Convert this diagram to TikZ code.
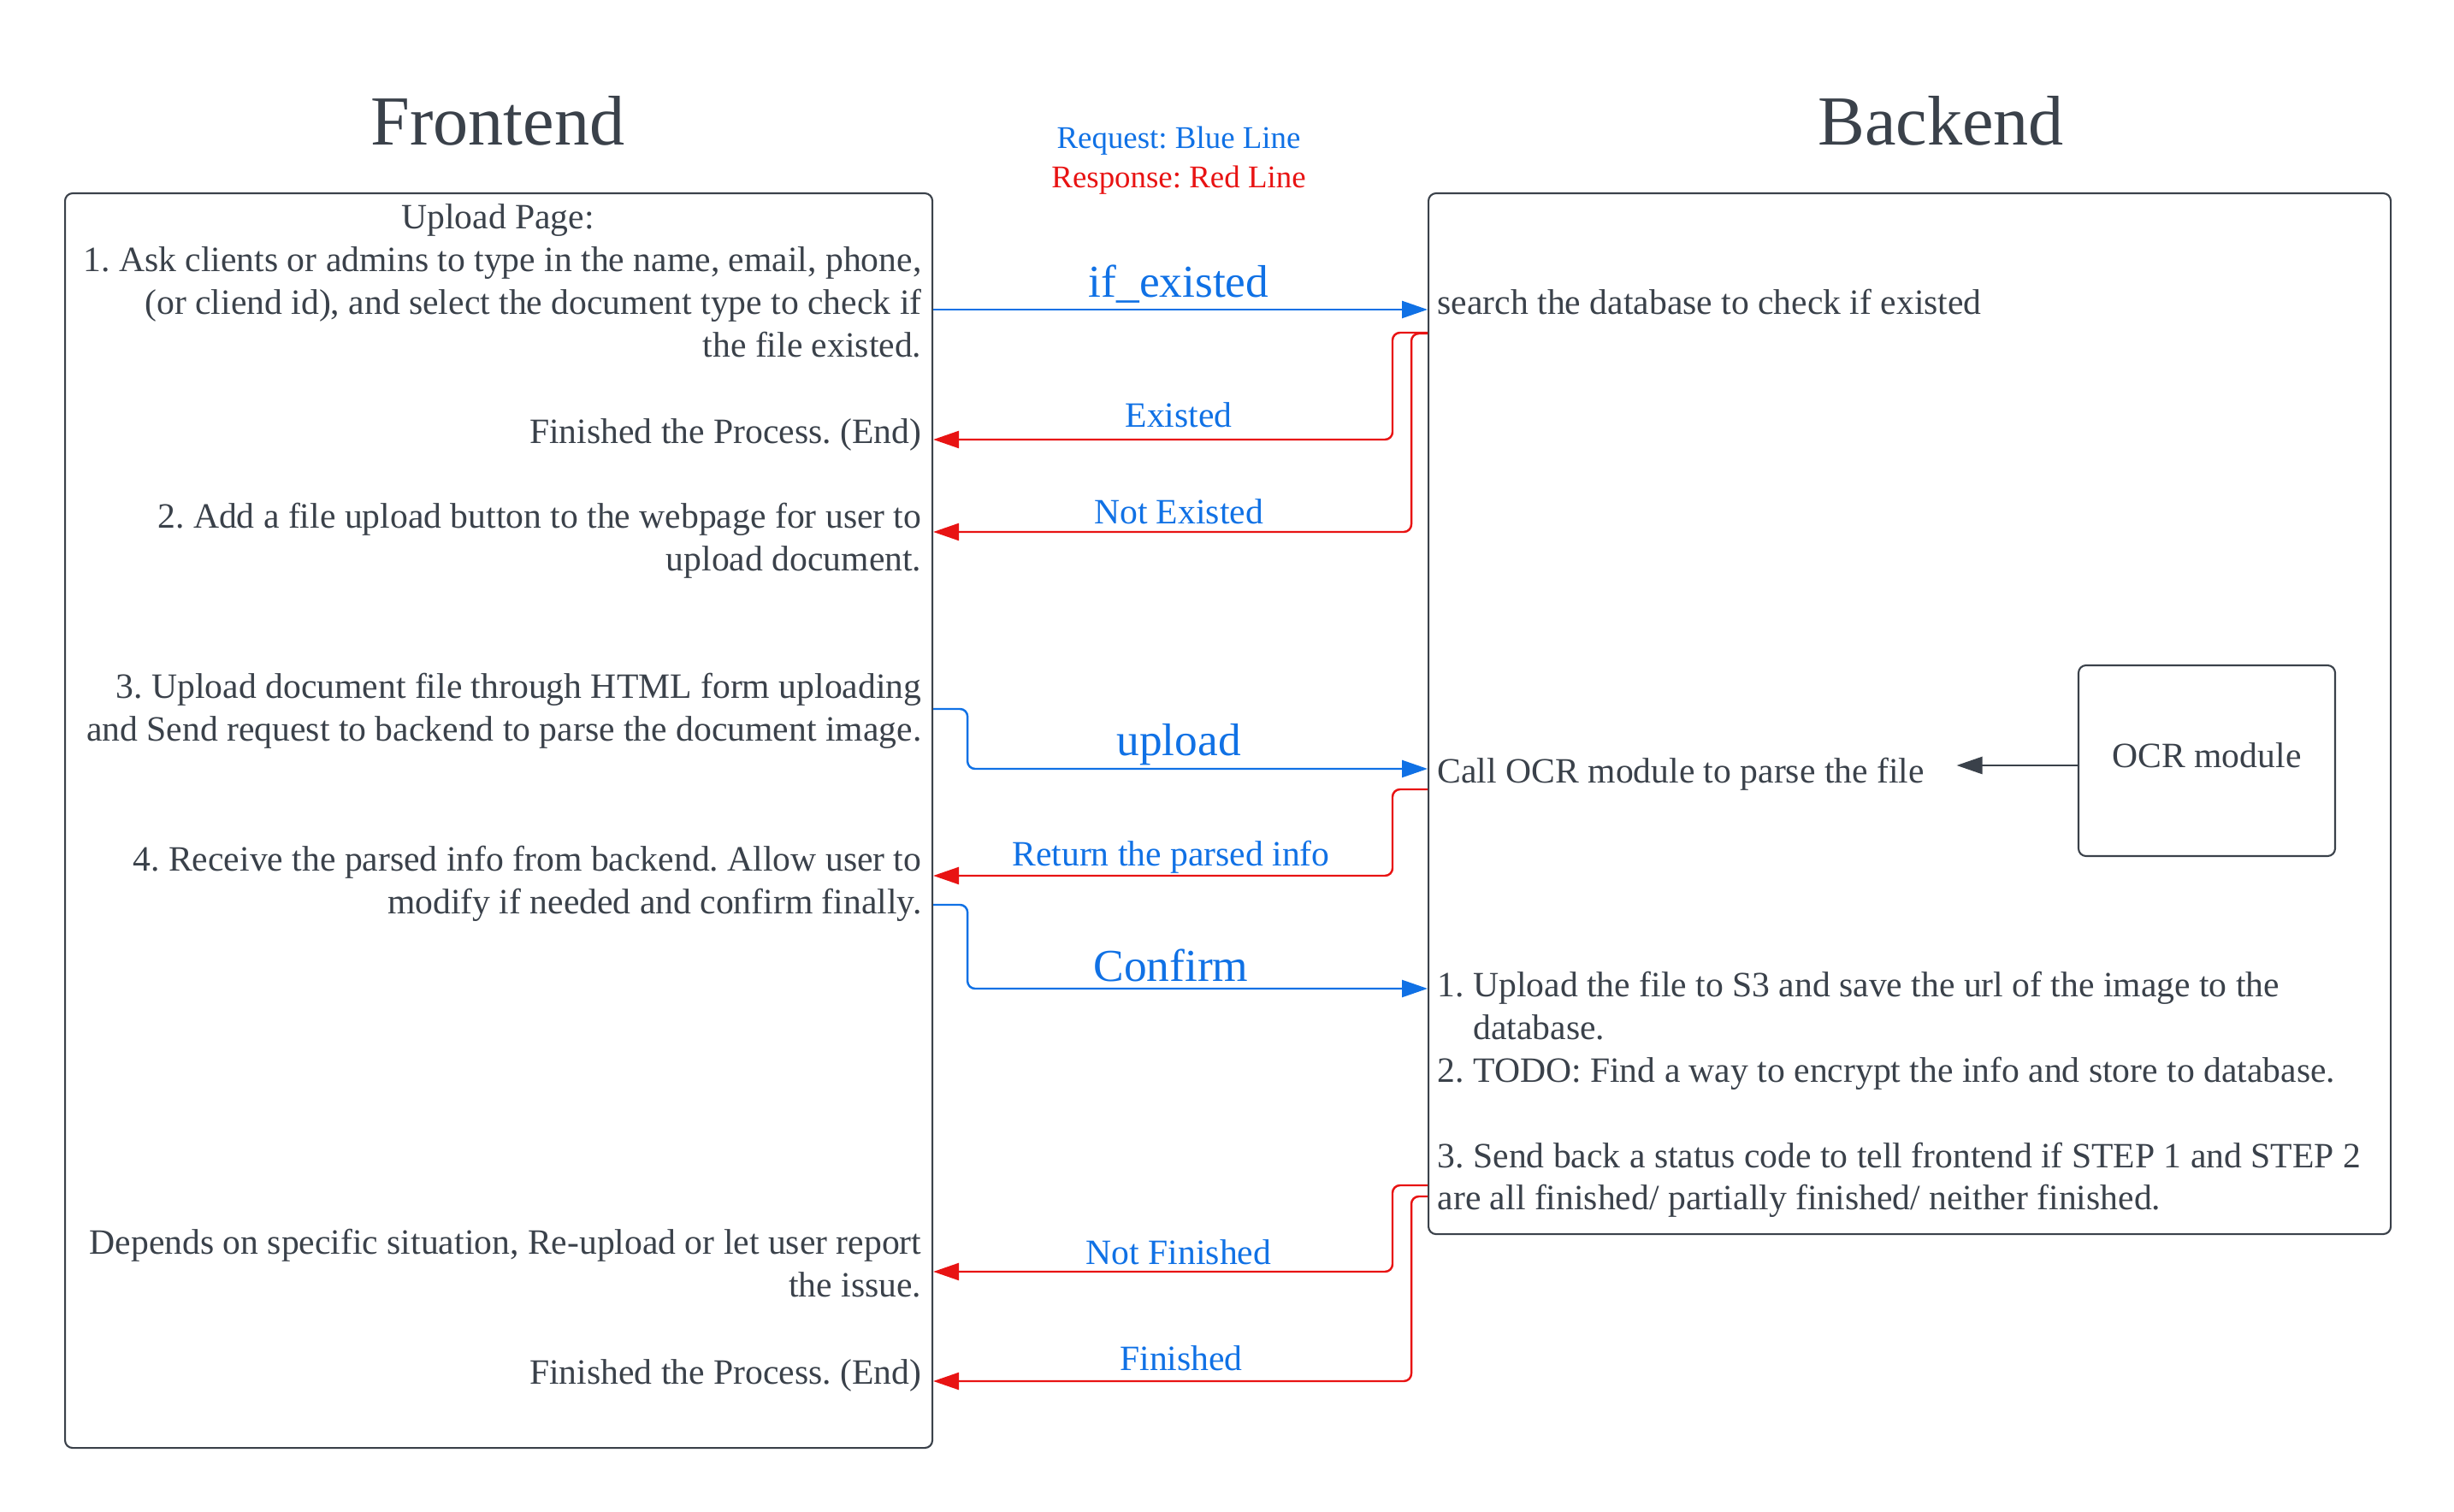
\documentclass[tikz,border=0pt]{standalone}
\usepackage{fontspec}
\setmainfont{Liberation Serif}
\usetikzlibrary{arrows.meta}
\definecolor{reqblue}{HTML}{1071E5}
\definecolor{resred}{HTML}{E81313}
\definecolor{ink}{HTML}{3A414A}
\frenchspacing
\begin{document}
\begin{tikzpicture}[font=\fontsize{11.85}{14.2}\selectfont, text=ink, line join=round,
  panel/.style={draw=ink, line width=0.6pt, rounded corners=2.5pt, inner sep=0pt},
  title/.style={font=\fontsize{23.4}{28}\selectfont},
  note/.style={inner sep=0pt},
  biglabel/.style={inner sep=0pt, text=reqblue, font=\fontsize{15.2}{18}\selectfont},
  smalllabel/.style={inner sep=0pt, text=reqblue},
  req/.style={draw=reqblue, line width=0.7pt, rounded corners=2.5pt, -{Triangle[length=3mm,width=2mm]}},
  res/.style={draw=resred, line width=0.7pt, rounded corners=2.5pt, -{Triangle[length=3mm,width=2mm]}}]
\useasboundingbox (0,0) rectangle (28.69,-17.68);
% titles and legend
\node[title] (fronttitle) at (5.82,-1.41) {Frontend};
\node[title] (backtitle) at (22.69,-1.41) {Backend};
\node[note, text=reqblue, font=\fontsize{10.5}{12.6}\selectfont] (legreq) at (13.78,-1.645) {Request: Blue Line};
\node[note, text=resred, font=\fontsize{10.5}{12.6}\selectfont] (legres) at (13.78,-2.105) {Response: Red Line};
% the two sides
\node[panel, anchor=north west, minimum width=10.14cm, minimum height=14.67cm] (front) at (0.75,-2.25) {};
\node[panel, anchor=north west, minimum width=11.25cm, minimum height=12.17cm] (back) at (16.69,-2.25) {};
\node[panel, minimum width=3cm, minimum height=2.23cm] (ocr) at (25.80,-8.895) {};
\node[note] (ocrtext) at (25.80,-8.835) {OCR module};
% frontend steps
\node[note] (page) at (5.82,-2.575) {Upload Page:};
\node[note, anchor=east, align=right] (ask) at (10.78,-3.53) {1. Ask clients or admins to type in the name, email, phone,\\(or cliend id), and select the document type to check if\\the file existed.};
\node[note, anchor=east] (endone) at (10.78,-5.085) {Finished the Process. (End)};
\node[note, anchor=east, align=right] (button) at (10.78,-6.32) {2. Add a file upload button to the webpage for user to\\upload document.};
\node[note, anchor=east, align=right] (form) at (10.78,-8.315) {3. Upload document file through HTML form uploading\\and Send request to backend to parse the document image.};
\node[note, anchor=east, align=right] (receive) at (10.78,-10.33) {4. Receive the parsed info from backend. Allow user to\\modify if needed and confirm finally.};
\node[note, anchor=east, align=right] (retry) at (10.78,-14.775) {Depends on specific situation, Re-upload or let user report\\the issue.};
\node[note, anchor=east] (endtwo) at (10.78,-16.085) {Finished the Process. (End)};
% backend steps
\node[note, anchor=west] (search) at (16.80,-3.53) {search the database to check if existed};
\node[note, anchor=west] (call) at (16.80,-9.055) {Call OCR module to parse the file};
\node[note, anchor=west, align=left] (store) at (16.80,-12.80) {1. Upload the file to S3 and save the url of the image to the\\\phantom{1.~}database.\\2. TODO: Find a way to encrypt the info and store to database.\\[14.2pt]3. Send back a status code to tell frontend if STEP 1 and STEP 2\\are all finished/ partially finished/ neither finished.};
\draw[draw=ink, line width=0.7pt, -{Triangle[length=3mm,width=2mm]}] ([yshift=-0.55mm]ocr.west) -- ([xshift=3.7mm,yshift=-0.55mm]call.east |- ocr.west);
% requests
\draw[req] (front.east |- 0,-3.62) -- (back.west |- 0,-3.62);
\draw[req] (front.east |- 0,-8.29) -- ++(0.4,0) |- (back.west |- 0,-8.99);
\draw[req] (front.east |- 0,-10.58) -- ++(0.4,0) |- (back.west |- 0,-11.56);
% responses
\foreach \ya/\xb/\yb in {3.89/0.41/5.14, 3.90/0.19/6.22, 9.23/0.41/10.24, 13.86/0.41/14.87, 13.99/0.19/16.15}
  \draw[res] (back.west |- 0,-\ya) -- ++(-\xb,0) |- (front.east |- 0,-\yb);
% arrow labels
\node[biglabel] (lifexist) at (13.78,-3.325) {if\_existed};
\node[smalllabel] (lexist) at (13.78,-4.85) {Existed};
\node[smalllabel] (lnotexist) at (13.78,-5.98) {Not Existed};
\node[biglabel] (lupload) at (13.78,-8.705) {upload};
\node[smalllabel] (lreturn) at (13.69,-10.025) {Return the parsed info};
\node[biglabel] (lconfirm) at (13.69,-11.29) {Confirm};
\node[smalllabel] (lnotdone) at (13.78,-14.64) {Not Finished};
\node[smalllabel] (ldone) at (13.81,-15.88) {Finished};
\end{tikzpicture}
\end{document}
